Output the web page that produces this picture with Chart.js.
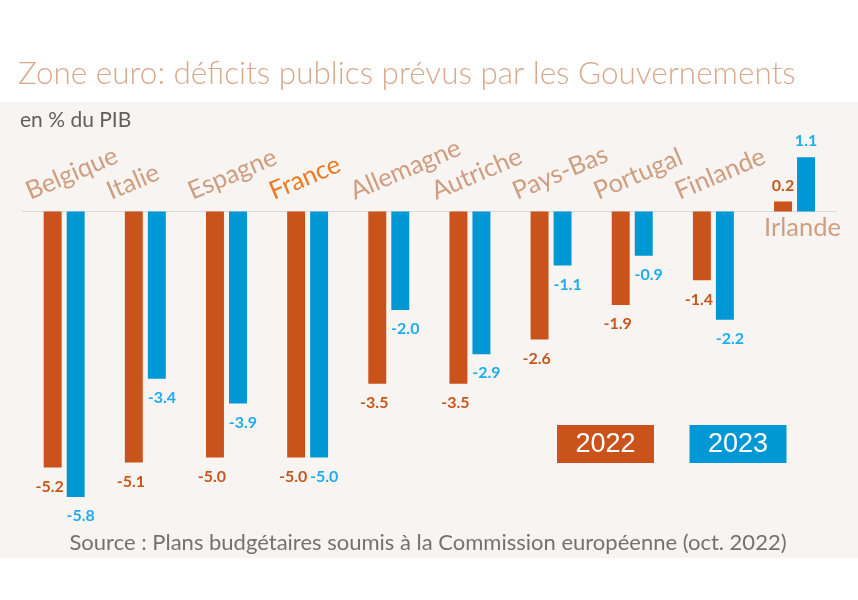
<!DOCTYPE html>
<html lang="fr">
<head>
<meta charset="utf-8">
<title>Zone euro : déficits publics prévus</title>
<script src="https://cdn.jsdelivr.net/npm/chart.js@4.4.1/dist/chart.umd.min.js"></script>
<style>
  html, body { margin: 0; padding: 0; background: #ffffff; }
  #wrap { position: relative; width: 858px; height: 600px; }
</style>
</head>
<body>
<div id="wrap"><canvas id="deficits"></canvas></div>
<script>
// Données (en % du PIB)
const pays = ['Belgique', 'Italie', 'Espagne', 'France', 'Allemagne', 'Autriche', 'Pays-Bas', 'Portugal', 'Finlande', 'Irlande'];
const deficit2022 = [-5.2, -5.1, -5.0, -5.0, -3.5, -3.5, -2.6, -1.9, -1.4, 0.2];
const deficit2023 = [-5.8, -3.4, -3.9, -5.0, -2.0, -2.9, -1.1, -0.9, -2.2, 1.1];
const annees = ['2022', '2023'];
const paysMisEnAvant = 'France';

const titre = 'Zone euro: déficits publics prévus par les Gouvernements';
const sousTitre = 'en % du PIB';
const source = 'Source : Plans budgétaires soumis à la Commission européenne (oct. 2022)';

// Couleurs
const couleursBarres = ['#c9531a', '#0098d4'];
const couleursValeurs = ['#c8561a', '#1aaef0'];
const couleurPays = '#cf9e80';
const couleurFrance = '#ec7a22';

const decor = {
    id: 'decor',
    beforeDraw(chart) {
        const { ctx, width } = chart;
        ctx.save();
        // fond beige
        ctx.fillStyle = '#f8f4f1';
        ctx.fillRect(0, 102, width, 456);

        // titre
        ctx.fillStyle = '#d8a98c';
        ctx.font = '300 31.5px Lato';
        ctx.textAlign = 'left';
        ctx.textBaseline = 'alphabetic';
        ctx.fillText(titre, 18, 84);

        // sous-titre
        ctx.fillStyle = '#5f5f5f';
        ctx.font = '21px Lato';
        ctx.fillText(sousTitre, 20, 127);

        // source
        ctx.fillStyle = '#727272';
        ctx.font = '22px Lato';
        ctx.textAlign = 'center';
        ctx.fillText(source, 428, 550);
        ctx.restore();
    },
    beforeDatasetsDraw(chart) {
        // ligne du zéro
        const { ctx, chartArea } = chart;
        const y0 = chart.scales.y.getPixelForValue(0);
        ctx.save();
        ctx.strokeStyle = '#d9d9d9';
        ctx.lineWidth = 1;
        ctx.beginPath();
        ctx.moveTo(chartArea.left - 2, Math.round(y0) + 0.5);
        ctx.lineTo(chartArea.right + 2, Math.round(y0) + 0.5);
        ctx.stroke();
        ctx.restore();
    },
    afterDatasetsDraw(chart) {
        const { ctx } = chart;
        const x = chart.scales.x;
        ctx.save();

        // valeurs au bout des barres (décalées vers l'extérieur du groupe)
        const decalage = [-3, 5];
        ctx.font = 'bold 16px Lato';
        ctx.textAlign = 'center';
        ctx.textBaseline = 'middle';
        chart.data.datasets.forEach((ds, i) => {
            const meta = chart.getDatasetMeta(i);
            ctx.fillStyle = couleursValeurs[i];
            meta.data.forEach((bar, j) => {
                const v = ds.data[j];
                const y = v < 0 ? bar.y + 19 : bar.y - 16;
                const dx = v < 0 ? decalage[i] : 0;
                ctx.fillText(v.toFixed(1), bar.x + dx, y);
            });
        });

        // noms des pays
        ctx.font = '25.5px Lato';
        pays.forEach((nom, i) => {
            const cx = x.getPixelForValue(i);
            ctx.fillStyle = nom === paysMisEnAvant ? couleurFrance : couleurPays;
            const positif = deficit2022[i] > 0 && deficit2023[i] > 0;
            if (positif) {
                // sous l'axe, à l'horizontale
                ctx.textAlign = 'center';
                ctx.textBaseline = 'alphabetic';
                ctx.fillText(nom, cx + 8, 236);
            } else {
                ctx.save();
                ctx.translate(cx - 34, 200);
                ctx.rotate(-23 * Math.PI / 180);
                ctx.textAlign = 'left';
                ctx.textBaseline = 'alphabetic';
                ctx.fillText(nom, 0, 0);
                ctx.restore();
            }
        });

        // légende en pavés
        ctx.font = '27px "Liberation Sans"';
        ctx.textAlign = 'center';
        ctx.textBaseline = 'middle';
        chart.data.datasets.forEach((ds, i) => {
            const bx = 557 + i * 132.5;
            ctx.fillStyle = ds.backgroundColor;
            ctx.fillRect(bx, 425, 97, 38);
            ctx.fillStyle = '#ffffff';
            ctx.fillText(ds.label, bx + 48.5, 445);
        });
        ctx.restore();
    }
};

const ctx = document.getElementById('deficits').getContext('2d');

new Chart(ctx, {
    type: 'bar',
    data: {
        labels: pays,
        datasets: [
            {
                label: annees[0],
                data: deficit2022,
                backgroundColor: couleursBarres[0],
                categoryPercentage: 0.567,
                barPercentage: 0.78
            },
            {
                label: annees[1],
                data: deficit2023,
                backgroundColor: couleursBarres[1],
                categoryPercentage: 0.567,
                barPercentage: 0.78
            }
        ]
    },
    options: {
        responsive: true,
        maintainAspectRatio: false,
        animation: false,
        layout: {
            padding: { left: 23.6, right: 22.9, top: 113, bottom: 44 }
        },
        scales: {
            x: { display: false },
            y: { display: false, min: -7, max: 2 }
        },
        plugins: {
            legend: { display: false },
            tooltip: { enabled: false },
            title: { display: false }
        }
    },
    plugins: [decor]
});
</script>
</body>
</html>
